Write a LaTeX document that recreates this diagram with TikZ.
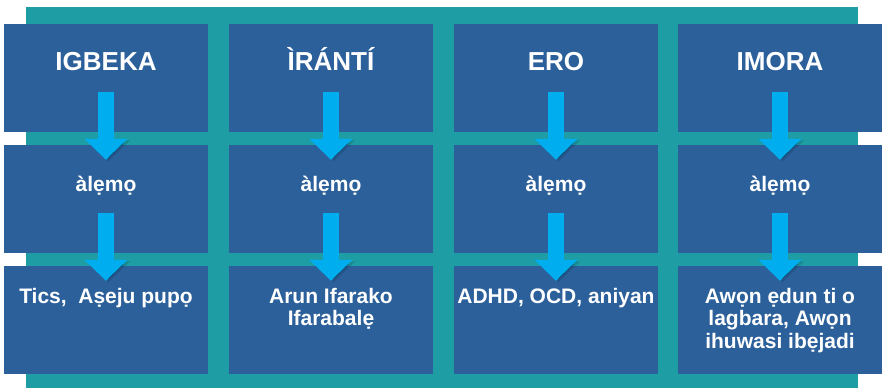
\documentclass[tikz,border=0pt]{standalone}
\usepackage{fontspec}
\setmainfont{Liberation Sans}
\usetikzlibrary{arrows.meta,positioning}

\definecolor{cellblue}{RGB}{43,96,155}
\definecolor{gridteal}{RGB}{30,157,165}
\definecolor{flowcyan}{RGB}{0,174,239}

\begin{document}
\begin{tikzpicture}
	[
		x=1pt, y=-1pt,
		cell/.style={fill=cellblue, minimum width=204pt, minimum height=108pt, inner sep=0pt},
		cattext/.style={text=white, font=\bfseries\fontsize{26}{30}\selectfont, anchor=base, inner sep=0pt},
		filttext/.style={text=white, font=\bfseries\fontsize{21}{24}\selectfont, anchor=base, inner sep=0pt},
		restext/.style={text=white, font=\bfseries\fontsize{21}{22.5}\selectfont, align=center, anchor=north, inner sep=0pt},
		shade/.style={draw=black, draw opacity=.12, transform canvas={xshift=2.5pt, yshift=-1.5pt}},
		flow/.style={draw=flowcyan, line width=16pt, -{Triangle[width=42pt,length=21pt]}, preaction={shade}}
	]

	\useasboundingbox (0,0) rectangle (883,388);
	\fill[gridteal] (26,7) rectangle (858,388);

	% top row
	\node[cell] (cat0) at (106,78) {};
	\node[cell] (cat1) at (331,78) {};
	\node[cell] (cat2) at (556,78) {};
	\node[cell] (cat3) at (780,78) {};

	% middle row
	\node[cell] (filt0) at (106,199) {};
	\node[cell] (filt1) at (331,199) {};
	\node[cell] (filt2) at (556,199) {};
	\node[cell] (filt3) at (780,199) {};

	% bottom row
	\node[cell] (res0) at (106,320) {};
	\node[cell] (res1) at (331,320) {};
	\node[cell] (res2) at (556,320) {};
	\node[cell] (res3) at (780,320) {};

	\draw[flow] ([yshift=40pt]cat0.south) -- ([yshift=-15pt]filt0.north);
	\draw[flow] ([yshift=40pt]cat1.south) -- ([yshift=-15pt]filt1.north);
	\draw[flow] ([yshift=40pt]cat2.south) -- ([yshift=-15pt]filt2.north);
	\draw[flow] ([yshift=40pt]cat3.south) -- ([yshift=-15pt]filt3.north);

	\draw[flow] ([yshift=40pt]filt0.south) -- ([yshift=-15pt]res0.north);
	\draw[flow] ([yshift=40pt]filt1.south) -- ([yshift=-15pt]res1.north);
	\draw[flow] ([yshift=40pt]filt2.south) -- ([yshift=-15pt]res2.north);
	\draw[flow] ([yshift=40pt]filt3.south) -- ([yshift=-15pt]res3.north);

	\node[cattext] (cattext0) at ([yshift=-47pt]cat0.north) {IGBEKA};
	\node[cattext] (cattext1) at ([yshift=-47pt]cat1.north) {ÌRÁNTÍ};
	\node[cattext] (cattext2) at ([yshift=-47pt]cat2.north) {ERO};
	\node[cattext] (cattext3) at ([yshift=-47pt]cat3.north) {IMORA};

	\node[filttext] (filttext0) at ([yshift=-47pt]filt0.north) {àlẹmọ};
	\node[filttext] (filttext1) at ([yshift=-47pt]filt1.north) {àlẹmọ};
	\node[filttext] (filttext2) at ([yshift=-47pt]filt2.north) {àlẹmọ};
	\node[filttext] (filttext3) at ([yshift=-47pt]filt3.north) {àlẹmọ};

	\node[restext] (restext0) at ([yshift=-22pt]res0.north) {Tics, \ Aṣeju pupọ};
	\node[restext] (restext1) at ([yshift=-22pt]res1.north) {Arun Ifarako\\Ifarabalẹ};
	\node[restext] (restext2) at ([yshift=-22pt]res2.north) {ADHD, OCD, aniyan};
	\node[restext] (restext3) at ([yshift=-22pt]res3.north) {Awọn ẹdun ti o\\lagbara, Awọn\\ihuwasi ibẹjadi};

\end{tikzpicture}
\end{document}
